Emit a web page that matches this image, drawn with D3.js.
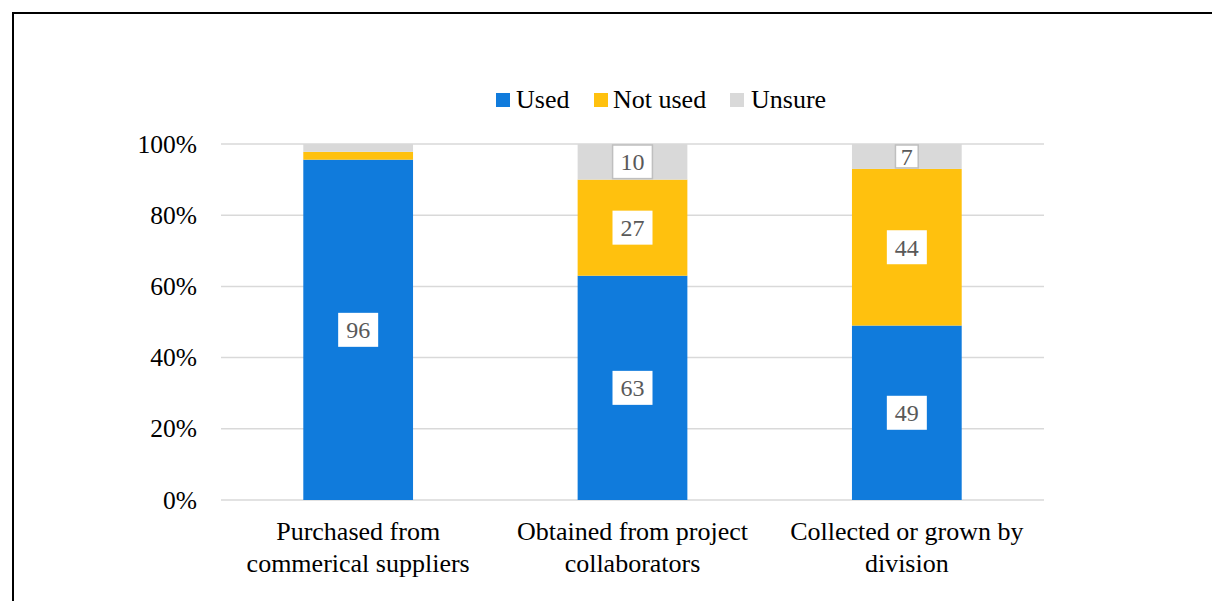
<!DOCTYPE html>
<html>
<head>
<meta charset="utf-8">
<script src="https://cdn.jsdelivr.net/npm/d3@7"></script>
<style>
  html, body { margin: 0; padding: 0; background: #fff; }
  svg { display: block; }
</style>
</head>
<body>
<svg id="chart" width="1212" height="601"></svg>
<script>
const categories = [
  ["Purchased from", "commerical suppliers"],
  ["Obtained from project", "collaborators"],
  ["Collected or grown by", "division"]
];
const seriesNames = ["Used", "Not used", "Unsure"];
const used    = [95.6, 63, 49];
const notUsed = [2.2, 27, 44];
const unsure  = [2.2, 10, 7];
const labels  = [["96", null, null], ["63", "27", "10"], ["49", "44", "7"]];
const yTicks  = [0, 20, 40, 60, 80, 100];
const colors  = ["#107BDC", "#FFC10E", "#D9D9D9"];

const FONT = "'Liberation Serif', 'Times New Roman', Times, 'DejaVu Serif', serif";
const svg = d3.select("#chart").attr("font-family", FONT);

// frame
svg.append("rect").attr("x", 13).attr("y", 13).attr("width", 1300).attr("height", 700)
  .attr("fill", "none").attr("stroke", "#000").attr("stroke-width", 2);

const plot = { left: 221, right: 1044, top: 144, bottom: 500 };
const keys = categories.map((c, i) => i);
const x = d3.scaleBand().domain(keys).range([plot.left, plot.right]).paddingInner(0.6).paddingOuter(0.3);
const y = d3.scaleLinear().domain([0, 100]).range([plot.bottom, plot.top]);

// gridlines
svg.append("g").selectAll("line").data(yTicks).join("line")
  .attr("x1", plot.left).attr("x2", plot.right)
  .attr("y1", d => y(d)).attr("y2", d => y(d))
  .attr("stroke", "#D9D9D9").attr("stroke-width", 1.5);

// y axis labels
const yAxis = d3.axisLeft(y).tickValues(yTicks).tickFormat(d => d + "%").tickSize(0).tickPadding(24);
const yg = svg.append("g").attr("transform", `translate(${plot.left},0)`).call(yAxis);
yg.attr("font-family", FONT).attr("font-size", 25.5);
yg.select(".domain").remove();
yg.selectAll("text").attr("fill", "#000").attr("font-family", FONT);

// stack
const rows = keys.map(i => ({ i, s0: used[i], s1: notUsed[i], s2: unsure[i] }));
const stack = d3.stack().keys(["s0", "s1", "s2"]);
const stacked = stack(rows);

const layers = svg.append("g").selectAll("g").data(stacked).join("g")
  .attr("fill", (d, k) => colors[k]);
layers.selectAll("rect").data(d => d).join("rect")
  .attr("x", d => x(d.data.i))
  .attr("width", x.bandwidth())
  .attr("y", d => y(d[1]))
  .attr("height", d => y(d[0]) - y(d[1]));

// data labels
stacked.forEach((layer, k) => {
  layer.forEach(d => {
    const lab = labels[d.data.i][k];
    if (!lab) return;
    const cx = x(d.data.i) + x.bandwidth() / 2;
    const y0 = y(d[1]), y1 = y(d[0]);
    const cy = (y0 + y1) / 2;
    const segH = y1 - y0;
    const g = svg.append("g");
    const t = g.append("text").attr("x", cx).attr("y", cy).attr("dy", "0.35em")
      .attr("text-anchor", "middle").attr("font-family", FONT).attr("font-size", 24).attr("fill", "#595959").text(lab);
    const tw = t.node().getComputedTextLength();
    const h = Math.min(34, segH - 2);
    const w = tw + 16 * h / 34;
    g.insert("rect", "text").attr("x", cx - w / 2).attr("y", cy - h / 2)
      .attr("width", w).attr("height", h).attr("fill", "#fff")
      .attr("stroke", k === 2 ? "#BFBFBF" : "none").attr("stroke-width", 1.5);
  });
});

// x labels
categories.forEach((lines, i) => {
  const cx = x(i) + x.bandwidth() / 2;
  const t = svg.append("text").attr("text-anchor", "middle").attr("font-family", FONT).attr("font-size", 26).attr("fill", "#000");
  lines.forEach((ln, j) => {
    t.append("tspan").attr("x", cx).attr("y", 540 + j * 31.5).text(ln);
  });
});

// legend
const legendItems = [
  { name: seriesNames[0], sx: 496, tx: 516 },
  { name: seriesNames[1], sx: 594, tx: 613 },
  { name: seriesNames[2], sx: 730, tx: 751 }
];
const lg = svg.append("g");
legendItems.forEach((it, k) => {
  lg.append("rect").attr("x", it.sx).attr("y", 93).attr("width", 14).attr("height", 14).attr("fill", colors[k]);
  lg.append("text").attr("x", it.tx).attr("y", 107.5).attr("font-family", FONT).attr("font-size", 26).attr("fill", "#000").text(it.name);
});
</script>
</body>
</html>
